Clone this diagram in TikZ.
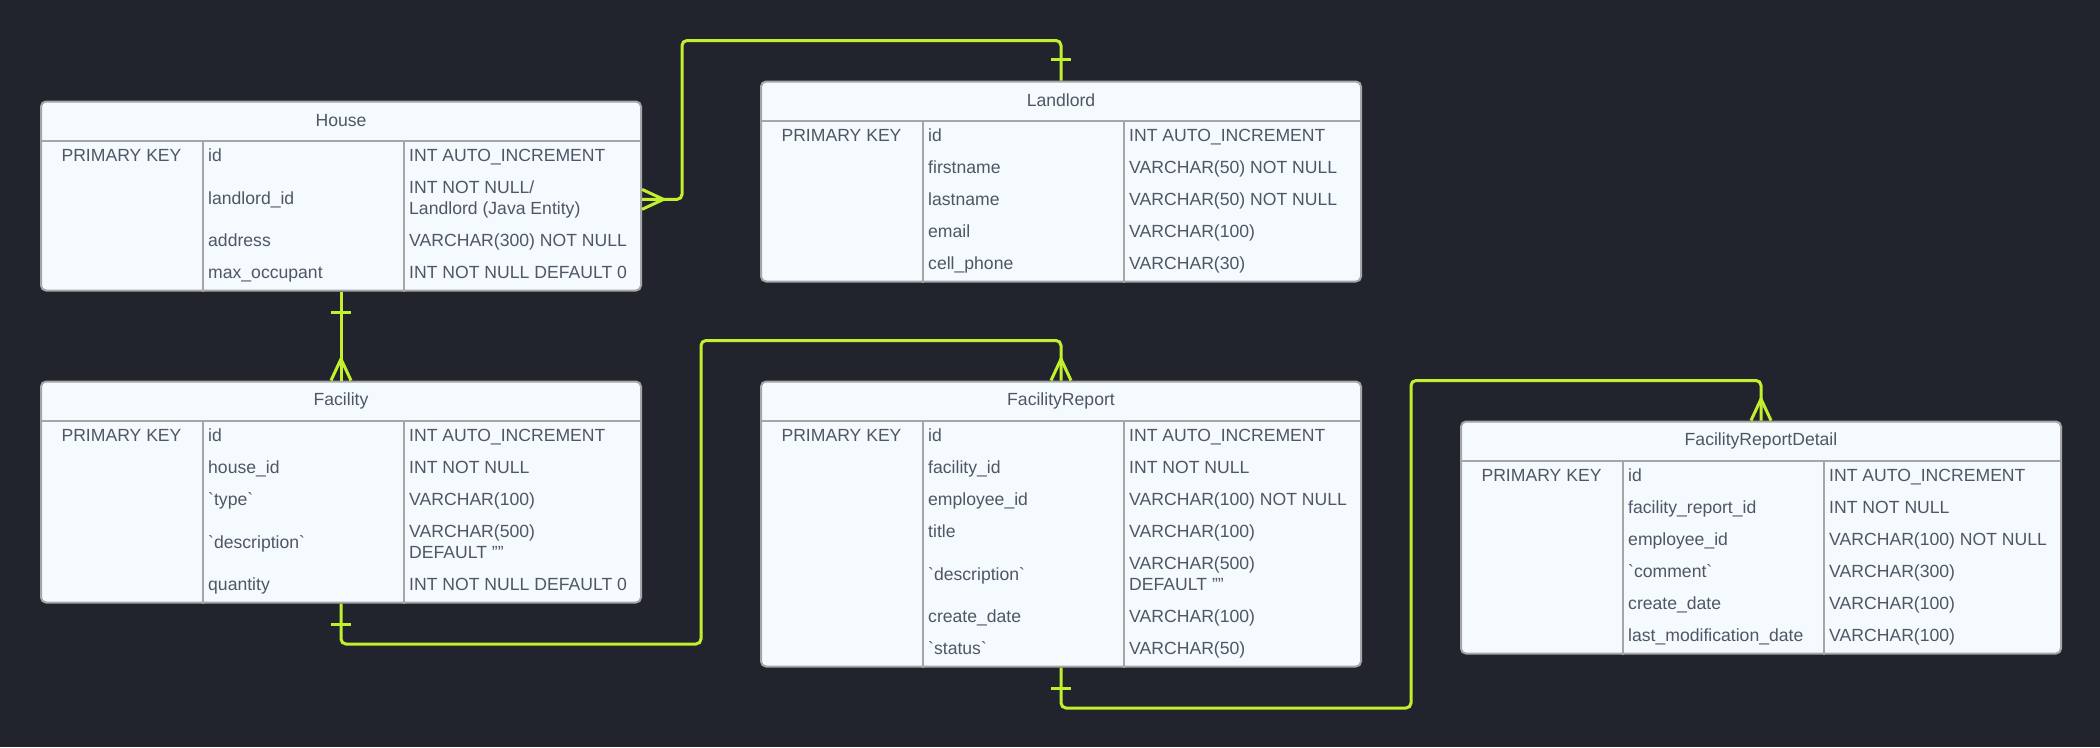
\documentclass[tikz,border=0pt]{standalone}
\usepackage{fontspec}
\setmainfont{Liberation Sans}
\usetikzlibrary{positioning}
\definecolor{pagebg}{RGB}{33,36,44}
\definecolor{tablefill}{RGB}{245,250,255}
\definecolor{tableline}{RGB}{166,166,166}
\definecolor{inktext}{RGB}{80,86,99}
\definecolor{relline}{RGB}{195,240,46}

\begin{document}
\begin{tikzpicture}[
  x=1pt,y=-1pt,
  font=\fontsize{17.6}{21.5}\selectfont,
  entity/.style={draw=tableline,line width=2pt,fill=tablefill,rounded corners=5pt,
    anchor=north west,minimum width=600pt,inner sep=0pt},
  title/.style={minimum height=40pt,inner sep=0pt,text=inktext},
  grid/.style={draw=tableline,line width=2pt},
  key/.style={anchor=base,inner sep=0pt,text=inktext},
  fld/.style={anchor=base west,inner sep=0pt,text=inktext},
  typ/.style={anchor=base west,inner sep=0pt,text=inktext},
  rel/.style={draw=relline,line width=3pt,rounded corners=5pt},
  onemark/.pic={\draw[rel] (21pt,-10pt) -- (21pt,10pt);},
  manymark/.pic={\draw[rel,sharp corners] (0pt,10pt) -- (21.5pt,0pt) -- (0pt,-10pt);},
]
  \useasboundingbox (0,0) rectangle (2100,747);
  \fill[pagebg] (0,0) rectangle (2100,747);

  \node[entity,minimum height=189pt] (house) at (40,100.5) {};
  \node[entity,minimum height=200pt] (landlord) at (760,80.5) {};
  \node[entity,minimum height=221pt] (facility) at (40,380.5) {};
  \node[entity,minimum height=285pt] (freport) at (760,380.5) {};
  \node[entity,minimum height=232pt] (frdetail) at (1460,420.5) {};

  \foreach \t in {house,landlord,facility,freport,frdetail} {
    \draw[grid] ([yshift=-40pt]\t.north west) -- ([yshift=-40pt]\t.north east);
    \draw[grid] ([xshift=163pt,yshift=-40pt]\t.north west) -- ([xshift=163pt]\t.south west);
    \draw[grid] ([xshift=364pt,yshift=-40pt]\t.north west) -- ([xshift=364pt]\t.south west);
  }

  \node[title,below=0pt of house.north] (house-t) {House};
  \node[key] (house-pk) at (121.5,161) {PRIMARY KEY};
  \node[fld] (house-id) at (208,161) {id};
  \node[typ] (house-id-t) at (409,161) {INT AUTO\_INCREMENT};
  \node[fld] (house-lid) at (208,204) {landlord\_id};
  \node[typ] (house-lid-t) at (409,193) {\begin{tabular}[t]{@{}l@{}}INT NOT NULL/\\Landlord (Java Entity)\end{tabular}};
  \node[fld] (house-adr) at (208,246) {address};
  \node[typ] (house-adr-t) at (409,246) {VARCHAR(300) NOT NULL};
  \node[fld] (house-max) at (208,278) {max\_occupant};
  \node[typ] (house-max-t) at (409,278) {INT NOT NULL DEFAULT 0};

  \node[title,below=0pt of landlord.north] (landlord-t) {Landlord};
  \node[key] (landlord-pk) at (841.5,141) {PRIMARY KEY};
  \node[fld] (landlord-id) at (928,141) {id};
  \node[typ] (landlord-id-t) at (1129,141) {INT AUTO\_INCREMENT};
  \node[fld] (landlord-fn) at (928,173) {firstname};
  \node[typ] (landlord-fn-t) at (1129,173) {VARCHAR(50) NOT NULL};
  \node[fld] (landlord-ln) at (928,205) {lastname};
  \node[typ] (landlord-ln-t) at (1129,205) {VARCHAR(50) NOT NULL};
  \node[fld] (landlord-em) at (928,237) {email};
  \node[typ] (landlord-em-t) at (1129,237) {VARCHAR(100)};
  \node[fld] (landlord-cp) at (928,269) {cell\_phone};
  \node[typ] (landlord-cp-t) at (1129,269) {VARCHAR(30)};

  \node[title,below=0pt of facility.north] (facility-t) {Facility};
  \node[key] (facility-pk) at (121.5,441) {PRIMARY KEY};
  \node[fld] (facility-id) at (208,441) {id};
  \node[typ] (facility-id-t) at (409,441) {INT AUTO\_INCREMENT};
  \node[fld] (facility-hid) at (208,473) {house\_id};
  \node[typ] (facility-hid-t) at (409,473) {INT NOT NULL};
  \node[fld] (facility-ty) at (208,505) {\textasciigrave type\textasciigrave};
  \node[typ] (facility-ty-t) at (409,505) {VARCHAR(100)};
  \node[fld] (facility-de) at (208,548) {\textasciigrave description\textasciigrave};
  \node[typ] (facility-de-t) at (409,537) {\begin{tabular}[t]{@{}l@{}}VARCHAR(500)\\DEFAULT ""\end{tabular}};
  \node[fld] (facility-qt) at (208,590) {quantity};
  \node[typ] (facility-qt-t) at (409,590) {INT NOT NULL DEFAULT 0};

  \node[title,below=0pt of freport.north] (freport-t) {FacilityReport};
  \node[key] (freport-pk) at (841.5,441) {PRIMARY KEY};
  \node[fld] (freport-id) at (928,441) {id};
  \node[typ] (freport-id-t) at (1129,441) {INT AUTO\_INCREMENT};
  \node[fld] (freport-fid) at (928,473) {facility\_id};
  \node[typ] (freport-fid-t) at (1129,473) {INT NOT NULL};
  \node[fld] (freport-eid) at (928,505) {employee\_id};
  \node[typ] (freport-eid-t) at (1129,505) {VARCHAR(100) NOT NULL};
  \node[fld] (freport-ti) at (928,537) {title};
  \node[typ] (freport-ti-t) at (1129,537) {VARCHAR(100)};
  \node[fld] (freport-de) at (928,580) {\textasciigrave description\textasciigrave};
  \node[typ] (freport-de-t) at (1129,569) {\begin{tabular}[t]{@{}l@{}}VARCHAR(500)\\DEFAULT ""\end{tabular}};
  \node[fld] (freport-cd) at (928,622) {create\_date};
  \node[typ] (freport-cd-t) at (1129,622) {VARCHAR(100)};
  \node[fld] (freport-st) at (928,654) {\textasciigrave status\textasciigrave};
  \node[typ] (freport-st-t) at (1129,654) {VARCHAR(50)};

  \node[title,below=0pt of frdetail.north] (frdetail-t) {FacilityReportDetail};
  \node[key] (frdetail-pk) at (1541.5,481) {PRIMARY KEY};
  \node[fld] (frdetail-id) at (1628,481) {id};
  \node[typ] (frdetail-id-t) at (1829,481) {INT AUTO\_INCREMENT};
  \node[fld] (frdetail-rid) at (1628,513) {facility\_report\_id};
  \node[typ] (frdetail-rid-t) at (1829,513) {INT NOT NULL};
  \node[fld] (frdetail-eid) at (1628,545) {employee\_id};
  \node[typ] (frdetail-eid-t) at (1829,545) {VARCHAR(100) NOT NULL};
  \node[fld] (frdetail-co) at (1628,577) {\textasciigrave comment\textasciigrave};
  \node[typ] (frdetail-co-t) at (1829,577) {VARCHAR(300)};
  \node[fld] (frdetail-cd) at (1628,609) {create\_date};
  \node[typ] (frdetail-cd-t) at (1829,609) {VARCHAR(100)};
  \node[fld] (frdetail-lm) at (1628,641) {last\_modification\_date};
  \node[typ] (frdetail-lm-t) at (1829,641) {VARCHAR(100)};

  \draw[rel] (house.east |- house-lid) -- ++(40,0) |- ([yshift=40pt]landlord.north) -- (landlord.north);
  \pic[rotate=0] at (house.east |- house-lid) {manymark};
  \pic[rotate=90] at (landlord.north) {onemark};

  \draw[rel] (house.south) -- (facility.north);
  \pic[rotate=-90] at (house.south) {onemark};
  \pic[rotate=90] at (facility.north) {manymark};

  \draw[rel] (facility.south) -- ++(0,40.5) -- ++(360,0) |- ([yshift=40pt]freport.north) -- (freport.north);
  \pic[rotate=-90] at (facility.south) {onemark};
  \pic[rotate=90] at (freport.north) {manymark};

  \draw[rel] (freport.south) -- ++(0,40.5) -- ++(350,0) |- ([yshift=40pt]frdetail.north) -- (frdetail.north);
  \pic[rotate=-90] at (freport.south) {onemark};
  \pic[rotate=90] at (frdetail.north) {manymark};
\end{tikzpicture}
\end{document}
